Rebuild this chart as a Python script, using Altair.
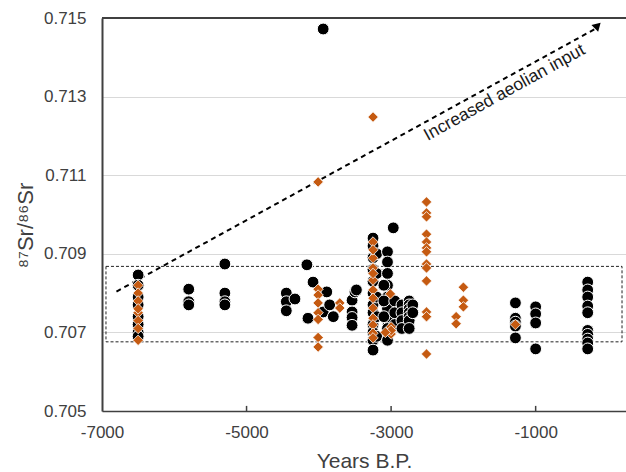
import altair as alt
import pandas as pd

# ---- data ----
black_x = ([-6500]*8 + [-5800]*3 + [-5300]*4 + [-4450]*3 + [-4330, -4165, -4080, -4150, -3890, -3940, -3800, -3940, -3850]
           + [-3540]*4 + [-3500, -3480]
           + [-3250]*12 + [-3200]*5 + [-3050]*9 + [-3100]*3 + [-2970] + [-2950]*3 + [-2850]*4 + [-2750]*7 + [-2700]*2
           + [-1280]*5 + [-1000]*4 + [-280]*10)
black_y = ([0.70846, 0.7082, 0.7079, 0.7077, 0.7074, 0.7072, 0.7070, 0.7069,
            0.7081, 0.70778, 0.7077,
            0.70874, 0.7080, 0.70778, 0.7077,
            0.7080, 0.70778, 0.70755,
            0.70785, 0.70872, 0.70828, 0.70736, 0.70803, 0.70752, 0.7074, 0.71472, 0.7077,
            0.70782, 0.70752, 0.70738, 0.70718,
            0.70803, 0.70808,
            0.7094, 0.7092, 0.7089, 0.7086, 0.7083, 0.7080, 0.7077, 0.7075, 0.7072, 0.7070, 0.7068, 0.70655,
            0.7090, 0.7085, 0.7079, 0.7074, 0.7069,
            0.70905, 0.70879, 0.7085, 0.7082, 0.7079, 0.7076, 0.7073, 0.7071, 0.7068,
            0.7082, 0.7078, 0.7074,
            0.70966,
            0.7078, 0.7075, 0.7072,
            0.7077, 0.7075, 0.7073, 0.7071,
            0.7078, 0.7077, 0.7076, 0.7075, 0.7074, 0.7073, 0.7071,
            0.7077, 0.7075,
            0.70775, 0.70736, 0.70726, 0.70716, 0.70686,
            0.70765, 0.70747, 0.70724, 0.70658,
            0.70828, 0.70808, 0.7079, 0.70767, 0.7075, 0.70705, 0.70695, 0.70683, 0.70673, 0.70658])

orange_x = ([-6500]*8 + [-4010]*8 + [-3710]*2 + [-3250]*14 + [-3010] + [-3000]*3 + [-3080]
            + [-2510]*13 + [-2000]*3 + [-2100]*2 + [-1280])
orange_y = ([0.7082, 0.7080, 0.7078, 0.7075, 0.7073, 0.7071, 0.7068, 0.7076,
             0.71083, 0.7081, 0.70795, 0.70775, 0.7075, 0.70733, 0.70687, 0.70663,
             0.70775, 0.70762,
             0.71248, 0.7093, 0.70889, 0.70864, 0.70833, 0.70808, 0.70787, 0.70762, 0.70736, 0.70719, 0.70698, 0.70686, 0.7091, 0.7085,
             0.70798,
             0.70714, 0.70696, 0.70705,
             0.7070,
             0.71032, 0.71004, 0.70994, 0.7095, 0.7093, 0.70915, 0.70905, 0.70874, 0.70864, 0.70831, 0.70752, 0.7074, 0.70645,
             0.70815, 0.70782, 0.70765,
             0.7074, 0.70722,
             0.7072])

box_x = [-6945]
box_x2 = [195]
box_y = [0.70868]
box_y2 = [0.70676]

arrow_x = [-6800]
arrow_x2 = [-150]
arrow_y = [0.70804]
arrow_y2 = [0.71475]

label_text = ["Increased aeolian input"]
label_x = [-1430]
label_y = [0.71310]

x_ticks = [-7000, -5000, -3000, -1000]
y_ticks = [0.705, 0.707, 0.709, 0.711, 0.713, 0.715]
top_line = [0.715]
inner_ticks = [-5000, -3000, -1000]

FONT = "Liberation Sans"

xs = alt.Scale(domain=[-7000, 250], nice=False, zero=False)
ys = alt.Scale(domain=[0.705, 0.715], nice=False, zero=False)

black = pd.DataFrame({"x": black_x, "y": black_y})
orange = pd.DataFrame({"x": orange_x, "y": orange_y})
box = pd.DataFrame({"x": box_x, "x2": box_x2, "y": box_y, "y2": box_y2})
arrow = pd.DataFrame({"x": arrow_x, "x2": arrow_x2, "y": arrow_y, "y2": arrow_y2})
label = pd.DataFrame({"t": label_text, "x": label_x, "y": label_y})
topdf = pd.DataFrame({"y": top_line})
tickdf = pd.DataFrame({"x": inner_ticks, "y": [0.705]*3, "y2": [0.70513]*3})

base_x = alt.X("x:Q", scale=xs, axis=alt.Axis(
    values=x_ticks, format="d", labelExpr="replace(datum.label, '\u2212', '-')",
    title="Years B.P.", grid=False, labelFlush=False, labelOverlap=False,
    domainColor="#404040", domainWidth=1.5, tickSize=0, labelPadding=13,
    labelFont=FONT, labelFontSize=17, labelColor="#404040",
    titleFont=FONT, titleFontSize=21, titleFontWeight="normal", titleColor="#404040",
    titleY=50, titleBaseline="middle"))
base_y = alt.Y("y:Q", scale=ys, axis=alt.Axis(
    values=y_ticks, format=".3f", title="⁸⁷Sr/⁸⁶Sr", grid=True, gridColor="#d9d9d9",
    labelFlush=False, labelOverlap=False,
    domainColor="#404040", domainWidth=2, tickSize=0, labelPadding=16,
    labelFont=FONT, labelFontSize=17, labelColor="#404040",
    titleFont=FONT, titleFontSize=22, titleFontWeight="normal", titleColor="#404040",
    titleX=-77, titleY=207, titleAngle=270, titleAlign="center", titleBaseline="middle"))

grid_layer = alt.Chart(black).mark_point(opacity=0).encode(x=base_x, y=base_y)

top_rule = alt.Chart(topdf).mark_rule(color="#404040", strokeWidth=2).encode(
    y=alt.Y("y:Q", scale=ys))

tick_rules = alt.Chart(tickdf).mark_rule(color="#404040", strokeWidth=1.5).encode(
    x=alt.X("x:Q", scale=xs), y=alt.Y("y:Q", scale=ys), y2="y2:Q")

box_layer = alt.Chart(box).mark_rect(fill=None, fillOpacity=0, stroke="#222222",
                                     strokeWidth=1, strokeDash=[3, 2]).encode(
    x=alt.X("x:Q", scale=xs), x2="x2:Q", y=alt.Y("y:Q", scale=ys), y2="y2:Q")

arrow_layer = alt.Chart(arrow).mark_rule(color="#000000", strokeWidth=2, strokeDash=[5, 4]).encode(
    x=alt.X("x:Q", scale=xs), x2="x2:Q", y=alt.Y("y:Q", scale=ys), y2="y2:Q")

head_layer = alt.Chart(arrow).mark_point(shape="triangle-down", filled=True, color="#000000",
                                         size=90, opacity=1, angle=345).encode(
    x=alt.X("x2:Q", scale=xs), y=alt.Y("y2:Q", scale=ys))

text_layer = alt.Chart(label).mark_text(font=FONT, fontSize=17.5, angle=331, color="#1a1a1a",
                                        align="center", baseline="middle").encode(
    x=alt.X("x:Q", scale=xs), y=alt.Y("y:Q", scale=ys), text="t:N")

black_layer = alt.Chart(black).mark_point(shape="circle", filled=True, fill="#000000",
                                          stroke="#ffffff", strokeWidth=1, size=140, opacity=1).encode(
    x=alt.X("x:Q", scale=xs), y=alt.Y("y:Q", scale=ys))

orange_layer = alt.Chart(orange).mark_point(shape="diamond", filled=True, fill="#C55A11",
                                            stroke="#ffffff", strokeWidth=0.8, size=110, opacity=1).encode(
    x=alt.X("x:Q", scale=xs), y=alt.Y("y:Q", scale=ys))

chart = alt.layer(grid_layer, box_layer, arrow_layer, head_layer, text_layer,
                  black_layer, orange_layer, top_rule, tick_rules).properties(
    width=524, height=393,
    autosize=alt.AutoSizeParams(type="none"),
    padding={"left": 102, "top": 18, "right": 0, "bottom": 61},
    background="#ffffff",
).configure_view(stroke=None)

chart.save("out.html", embed_options={"renderer": "svg", "actions": False})
